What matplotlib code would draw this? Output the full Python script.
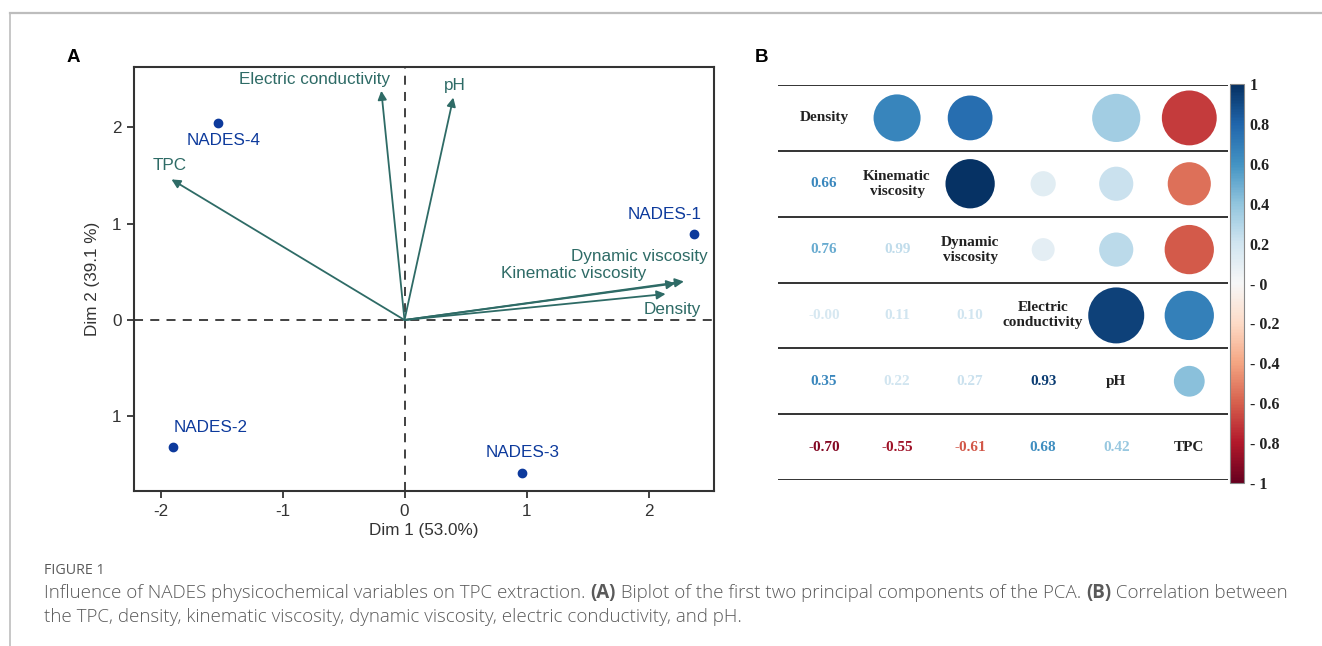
import matplotlib
matplotlib.use("Agg")
import matplotlib.pyplot as plt
import numpy as np
from matplotlib import cm, colors as mcolors
from matplotlib.lines import Line2D

# ---------------- data ----------------
individuals = ["NADES-1", "NADES-2", "NADES-3", "NADES-4"]
ind_dim1 = [2.37, -1.90, 0.96, -1.53]
ind_dim2 = [0.89, -1.32, -1.59, 2.05]

variables = ["Density", "Kinematic viscosity", "Dynamic viscosity",
             "Electric conductivity", "pH", "TPC"]
var_dim1 = [2.14, 2.22, 2.29, -0.19, 0.40, -1.91]
var_dim2 = [0.27, 0.38, 0.40, 2.38, 2.31, 1.46]

x_ticks = [-2, -1, 0, 1, 2]
x_tick_labels = ["-2", "-1", "0", "1", "2"]
y_ticks = [-1, 0, 1, 2]
y_tick_labels = ["1", "0", "1", "2"]

corr_vars = ["Density", "Kinematic\nviscosity", "Dynamic\nviscosity",
             "Electric\nconductivity", "pH", "TPC"]
# lower-triangle correlations (row i, col j<i), row-major
corr_lower = [
    [0.66],
    [0.76, 0.99],
    [-0.00, 0.11, 0.10],
    [0.35, 0.22, 0.27, 0.93],
    [-0.70, -0.55, -0.61, 0.68, 0.42],
]
# shade of each printed coefficient as it appears in the picture
text_shade = [
    [0.65],
    [0.50, 0.25],
    [0.17, 0.20, 0.20],
    [0.65, 0.20, 0.22, 0.95],
    [-0.92, -0.85, -0.62, 0.62, 0.38],
]
# relative circle magnitude in the upper triangle as drawn (row i, col j>i)
circle_mag = [
    [0.84, 0.80, 0.00, 0.86, 0.98],
    [0.88, 0.45, 0.61, 0.77],
    [0.41, 0.61, 0.88],
    [1.00, 0.88],
    [0.55],
]
cbar_ticks = [1, 0.8, 0.6, 0.4, 0.2, 0, -0.2, -0.4, -0.6, -0.8, -1]
cbar_labels = ["1", "0.8", "0.6", "0.4", "0.2", "- 0", "- 0.2", "- 0.4",
               "- 0.6", "- 0.8", "- 1"]

# ---------------- figure ----------------
W, H = 1322, 646
fig = plt.figure(figsize=(W / 100, H / 100), dpi=100)

def fx(px):
    return px / W

def fy(py):
    return 1 - py / H

teal = "#2e6b66"
navy = "#0d3a9c"
dark = "#333333"
sans = ["Liberation Sans", "DejaVu Sans"]
serif = ["Liberation Serif", "DejaVu Serif"]
fsA = 12.3

# outer frame lines
fig.add_artist(Line2D([fx(10), fx(1322)], [fy(13), fy(13)], color="#bdbdbd", lw=1.6))
fig.add_artist(Line2D([fx(10), fx(10)], [fy(13), fy(646)], color="#bdbdbd", lw=1.2))

# ---------------- panel A ----------------
axA = fig.add_axes([fx(134), fy(491), fx(714) - fx(134), fy(67) - fy(491)])
x0, xs = 404.5, 122.0
y0, ys = 320.0, 96.3
axA.set_xlim((134 - x0) / xs, (714 - x0) / xs)
axA.set_ylim(-(491 - y0) / ys, (y0 - 67) / ys)

axA.axhline(0, color=dark, lw=1.3, ls=(0, (5, 4)), zorder=1)
axA.axvline(0, color=dark, lw=1.3, ls=(0, (5, 4)), zorder=1)

var_offsets = {
    "Density": (5, -11),
    "Kinematic viscosity": (-73, 7),
    "Dynamic viscosity": (-32, 18),
    "Electric conductivity": (-48, 8),
    "pH": (1, 9),
    "TPC": (-1, 10),
}
for name, vx, vy in zip(variables, var_dim1, var_dim2):
    axA.annotate("", xy=(vx, vy), xytext=(0, 0),
                 arrowprops=dict(arrowstyle="-|>", color=teal, lw=1.3,
                                 mutation_scale=13, shrinkA=0, shrinkB=0),
                 zorder=3)
    axA.annotate(name, xy=(vx, vy), xytext=var_offsets[name],
                 textcoords="offset points", ha="center", va="center",
                 color=teal, fontsize=fsA, family=sans)

ind_offsets = {
    "NADES-1": (-21, 14),
    "NADES-2": (27, 14),
    "NADES-3": (1, 15),
    "NADES-4": (4, -13),
}
axA.plot(ind_dim1, ind_dim2, "o", color=navy, ms=6, zorder=4)
for name, px_, py_ in zip(individuals, ind_dim1, ind_dim2):
    axA.annotate(name, xy=(px_, py_), xytext=ind_offsets[name],
                 textcoords="offset points", ha="center", va="center",
                 color=navy, fontsize=fsA, family=sans)

axA.set_xticks(x_ticks)
axA.set_xticklabels(x_tick_labels)
axA.set_yticks(y_ticks)
axA.set_yticklabels(y_tick_labels)
axA.tick_params(direction="out", length=5, width=1.3, colors=dark,
                labelsize=fsA, pad=4)
for lab in axA.get_xticklabels() + axA.get_yticklabels():
    lab.set_family(sans)
for sp in axA.spines.values():
    sp.set_color(dark)
    sp.set_linewidth(1.5)
axA.set_xlabel("Dim 1 (53.0%)", fontsize=fsA, family=sans, color=dark, labelpad=3)
axA.set_ylabel("Dim 2 (39.1 %)", fontsize=fsA, family=sans, color=dark, labelpad=9)

fig.text(fx(73), fy(58), "A", fontsize=13.5, fontweight="bold", family=sans,
         ha="center", va="center")
fig.text(fx(761), fy(58), "B", fontsize=13.5, fontweight="bold", family=sans,
         ha="center", va="center")

# ---------------- panel B ----------------
axB = fig.add_axes([fx(778), fy(480), fx(1228) - fx(778), fy(85) - fy(480)])
axB.set_xlim(-0.63, 5.53)
axB.set_ylim(5.5, -0.5)
axB.axis("off")
cmap = plt.get_cmap("RdBu")
norm = mcolors.Normalize(-1, 1)
n = len(corr_vars)

for k in range(n + 1):
    axB.axhline(k - 0.5, color=dark, lw=1.4)

for i, lab in enumerate(corr_vars):
    axB.text(i, i, lab, ha="center", va="center", fontsize=11,
             fontweight="bold", family=serif, color="#222222", linespacing=1.2)

# full correlation lookup
def corr(i, j):
    a, b = max(i, j), min(i, j)
    return corr_lower[a - 1][b]

max_d_pt = 56 * 0.72
for i in range(n):
    for j in range(i + 1, n):
        mag = circle_mag[i][j - i - 1]
        if mag <= 0:
            continue
        v = corr(i, j)
        axB.scatter(j, i, s=(mag * max_d_pt) ** 2, color=cmap(norm(v)),
                    edgecolors="none", zorder=3)

for i in range(1, n):
    for j in range(i):
        v = corr_lower[i - 1][j]
        shade = text_shade[i - 1][j]
        axB.text(j, i, f"{v:.2f}", ha="center", va="center", fontsize=11,
                 fontweight="bold", family=serif, color=cmap(norm(shade)))

cax = fig.add_axes([fx(1230), fy(483), fx(1244) - fx(1230), fy(84) - fy(483)])
sm = cm.ScalarMappable(norm=norm, cmap=cmap)
cb = fig.colorbar(sm, cax=cax)
cb.set_ticks(cbar_ticks)
cb.set_ticklabels(cbar_labels)
cb.outline.set_edgecolor("#888888")
cb.outline.set_linewidth(0.8)
cax.tick_params(length=0, pad=4)
for lab in cax.get_yticklabels():
    lab.set_family(serif)
    lab.set_fontweight("bold")
    lab.set_fontsize(11.5)
    lab.set_color("#222222")

# ---------------- caption ----------------
cap_font = ["Open Sans", "DejaVu Sans"]
cap_color = "#5a5a5a"
fig.text(fx(44), fy(570), "FIGURE 1", fontsize=10.3, family=cap_font,
         color=cap_color, va="center")

renderer = fig.canvas.get_renderer()

def rich_line(x, y, parts):
    for txt, weight in parts:
        t = fig.text(x, y, txt, fontsize=13.5, family=cap_font, color=cap_color,
                     fontweight=weight, va="center")
        bb = t.get_window_extent(renderer)
        x += bb.width / W

rich_line(fx(44), fy(593), [
    ("Influence of NADES physicochemical variables on TPC extraction. ", "light"),
    ("(A)", "bold"),
    (" Biplot of the first two principal components of the PCA. ", "light"),
    ("(B)", "bold"),
    (" Correlation between", "light"),
])
rich_line(fx(44), fy(617), [
    ("the TPC, density, kinematic viscosity, dynamic viscosity, electric conductivity, and pH.", "light"),
])

fig.savefig("out.png", dpi=100)
